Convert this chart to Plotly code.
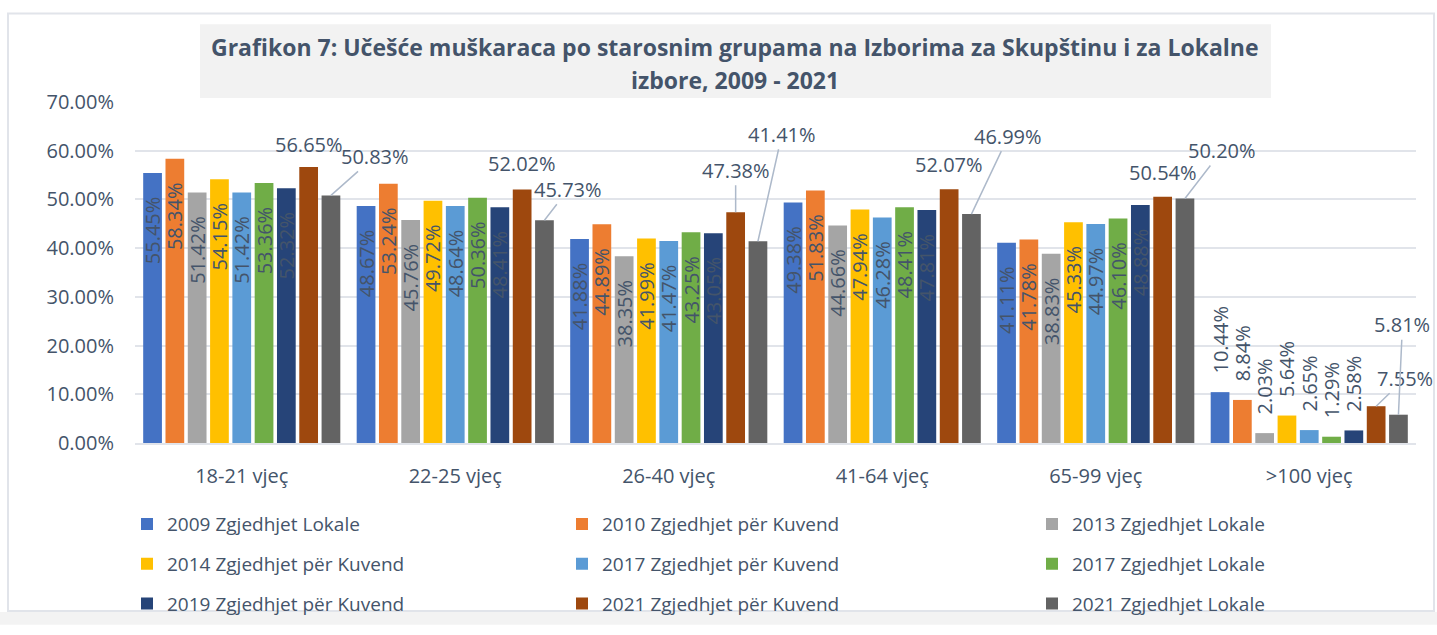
import plotly.graph_objects as go

# ---------------- data ----------------
categories = ["18-21 vjeç", "22-25 vjeç", "26-40 vjeç", "41-64 vjeç", "65-99 vjeç", ">100 vjeç"]
series_names = [
    "2009 Zgjedhjet Lokale",
    "2010 Zgjedhjet për Kuvend",
    "2013 Zgjedhjet Lokale",
    "2014 Zgjedhjet për Kuvend",
    "2017 Zgjedhjet për Kuvend",
    "2017 Zgjedhjet Lokale",
    "2019 Zgjedhjet për Kuvend",
    "2021 Zgjedhjet për Kuvend",
    "2021 Zgjedhjet Lokale",
]
v2009_lokale = [55.45, 48.67, 41.88, 49.38, 41.11, 10.44]
v2010_kuvend = [58.34, 53.24, 44.89, 51.83, 41.78, 8.84]
v2013_lokale = [51.42, 45.76, 38.35, 44.66, 38.83, 2.03]
v2014_kuvend = [54.15, 49.72, 41.99, 47.94, 45.33, 5.64]
v2017_kuvend = [51.42, 48.64, 41.47, 46.28, 44.97, 2.65]
v2017_lokale = [53.36, 50.36, 43.25, 48.41, 46.10, 1.29]
v2019_kuvend = [52.32, 48.41, 43.05, 47.81, 48.88, 2.58]
v2021_kuvend = [56.65, 52.02, 47.38, 52.07, 50.54, 7.55]
v2021_lokale = [50.83, 45.73, 41.41, 46.99, 50.20, 5.81]
series_values = [v2009_lokale, v2010_kuvend, v2013_lokale, v2014_kuvend, v2017_kuvend,
                 v2017_lokale, v2019_kuvend, v2021_kuvend, v2021_lokale]
y_ticks = [0, 10, 20, 30, 40, 50, 60, 70]
y_tick_labels = [f"{t:.2f}%" for t in y_ticks]

# ---------------- styles ----------------
colors = ["#4472C4", "#ED7D31", "#A5A5A5", "#FFC000", "#5B9BD5",
          "#70AD47", "#264478", "#9E480E", "#636363"]
label_color = "#44546a"
grid_color = "#e1e4ea"
FONT = "Open Sans"
W, H = 1437, 635
L, R, T, B = 135, 21, 102, 182
PW, PH = W - L - R, H - T - B
BARGAP, GROUPGAP = 0.06, 0.16


def px_x(px):
    return (px - L) / PW


def px_y(py):
    return (H - B - py) / PH


NBSP = "\u00a0"
fig = go.Figure()
legend_of = ["legend", "legend2", "legend3"]
for j, (name, vals, col) in enumerate(zip(series_names, series_values, colors)):
    if j < 7:
        texts, positions = [], []
        for i, v in enumerate(vals):
            if i < 5:
                texts.append(f"{v:.2f}%" + NBSP * 4)
                positions.append("inside")
            else:
                texts.append(NBSP * 3 + f"{v:.2f}%")
                positions.append("outside")
    else:
        texts, positions = None, "none"
    fig.add_trace(go.Bar(
        name=name, x=categories, y=vals,
        marker=dict(color=col, line=dict(width=0)),
        text=texts, textposition=positions, textangle=-90,
        insidetextanchor="end", constraintext="none", cliponaxis=False,
        textfont=dict(family=FONT, size=20, color=label_color),
        insidetextfont=dict(family=FONT, size=20, color=label_color),
        outsidetextfont=dict(family=FONT, size=20, color=label_color),
        legend=legend_of[j % 3], legendgroup=name,
        hovertemplate="%{x}<br>" + name + ": %{y:.2f}%<extra></extra>",
    ))

# callout labels for the last two series
slot = (1 - BARGAP) / len(series_names)


def bar_center(i, j):
    return i - (1 - BARGAP) / 2 + slot * (j + 0.5)


brown_offsets = [(0, -23, False), (0, -26, False), (0, -42, True), (0, -25, False), (0, -24, False), (29, -28, True)]
gray_offsets = [(44, -39, True), (24, -31, True), (24, -107, True), (37, -78, True), (37, -48, True), (4, -90, True)]
for j, offs in ((7, brown_offsets), (8, gray_offsets)):
    for i, v in enumerate(series_values[j]):
        ax, ay, arrow = offs[i]
        common = dict(x=bar_center(i, j), y=v, xref="x", yref="y",
                      text=f"{v:.2f}%", font=dict(family=FONT, size=20, color=label_color))
        if arrow:
            fig.add_annotation(**common, showarrow=True, arrowhead=0, arrowwidth=1.5,
                               arrowcolor="#adb9ca", ax=ax, ay=ay, axref="pixel", ayref="pixel",
                               standoff=0)
        else:
            fig.add_annotation(**common, showarrow=False, xshift=ax, yshift=-ay,
                               xanchor="center", yanchor="middle")

# title
fig.add_shape(type="rect", xref="paper", yref="paper",
              x0=px_x(200), x1=px_x(1271), y0=px_y(98), y1=px_y(22),
              fillcolor="#f2f2f2", line=dict(width=0), layer="below")
fig.add_annotation(xref="paper", yref="paper", x=px_x(735), y=px_y(45), showarrow=False,
                   xanchor="center", yanchor="middle",
                   text="<b>Grafikon 7: Učešće muškaraca po starosnim grupama na Izborima za Skupštinu i za Lokalne</b>",
                   font=dict(family=FONT, size=23, color=label_color))
fig.add_annotation(xref="paper", yref="paper", x=px_x(735), y=px_y(79), showarrow=False,
                   xanchor="center", yanchor="middle",
                   text="<b>izbore, 2009 - 2021</b>",
                   font=dict(family=FONT, size=23, color=label_color))

# outer frame and bottom strip
fig.add_shape(type="rect", xref="paper", yref="paper",
              x0=px_x(8), x1=px_x(1434), y0=px_y(626), y1=px_y(11),
              fillcolor="rgba(0,0,0,0)", line=dict(color=grid_color, width=2), layer="below")
fig.add_shape(type="rect", xref="paper", yref="paper",
              x0=px_x(0), x1=px_x(1437), y0=px_y(640), y1=px_y(627),
              fillcolor="#f3f3f3", line=dict(width=0), layer="below")

legend_style = dict(orientation="v", font=dict(family=FONT, size=19, color=label_color),
                    bgcolor="rgba(0,0,0,0)", traceorder="grouped", tracegroupgap=12,
                    yanchor="top", xanchor="left", y=px_y(517))
fig.update_layout(
    width=W, height=H,
    margin=dict(l=L, r=R, t=T, b=B, pad=0),
    paper_bgcolor="white", plot_bgcolor="white",
    barmode="group", bargap=BARGAP, bargroupgap=GROUPGAP,
    font=dict(family=FONT, color=label_color),
    legend=dict(**legend_style, x=px_x(127)),
    legend2=dict(**legend_style, x=px_x(562)),
    legend3=dict(**legend_style, x=px_x(1032)),
    xaxis=dict(range=[-0.5, len(categories) - 0.5], autorange=False,
               showline=True, linecolor=grid_color, linewidth=2, ticks="",
               tickfont=dict(family=FONT, size=20, color=label_color), ticklabelstandoff=14,
               showgrid=False),
    yaxis=dict(range=[0, 70], autorange=False, tickvals=y_ticks, ticktext=y_tick_labels,
               gridcolor=grid_color, gridwidth=2, zeroline=False, showline=False,
               tickfont=dict(family=FONT, size=20, color=label_color), ticklabelstandoff=20),
    showlegend=True,
)

fig.write_html("out.html", config={"displayModeBar": False},
               post_script="document.body.style.margin='0';")
